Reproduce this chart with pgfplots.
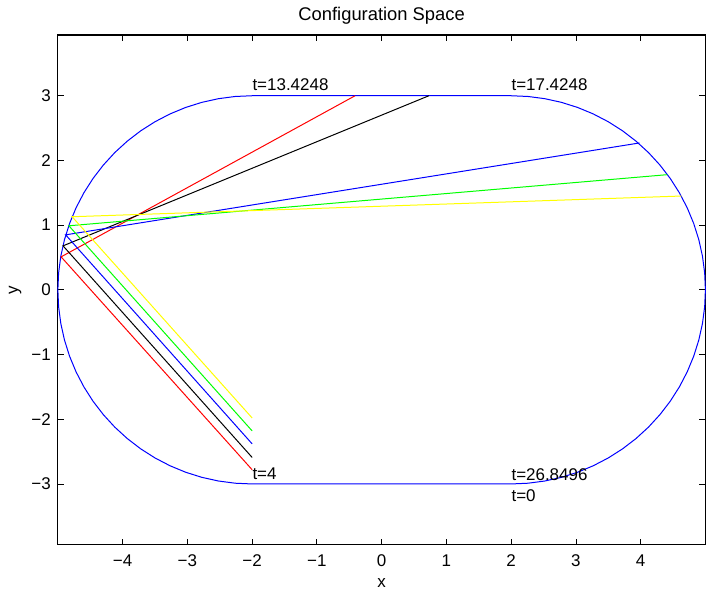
\documentclass[border=0pt]{standalone}
\usepackage{fontspec}
\setmainfont{Liberation Sans}
\usepackage{pgfplots}
\pgfplotsset{compat=1.18}

\definecolor{mblue}{rgb}{0,0,1}
\definecolor{mred}{rgb}{1,0,0}
\definecolor{mgreen}{rgb}{0,1,0}
\definecolor{myellow}{rgb}{1,1,0}

\newcommand{\lblfont}{\fontsize{8.5}{10}\selectfont}

\begin{document}
\begin{tikzpicture}
  \begin{axis}[
      scale only axis,
      width=324.5pt, height=255.5pt,
      xmin=-5, xmax=5,
      ymin=-3.94, ymax=3.94,
      xtick={-4,-3,-2,-1,0,1,2,3,4},
      xticklabels={−4,−3,−2,−1,0,1,2,3,4},
      ytick={-3,-2,-1,0,1,2,3},
      yticklabels={−3,−2,−1,0,1,2,3},
      tick align=inside,
      major tick length=3pt,
      tick style={black, line width=0.4pt},
      axis line style={black, line width=0.6pt},
      every tick label/.append style={font=\lblfont},
      xticklabel style={yshift=-1.5pt},
      title={Configuration Space},
      every axis title shift=7pt,
      title style={font=\fontsize{9.2}{11}\selectfont, inner sep=0pt,
                   at={(axis description cs:0.5,1)}, anchor=base},
      xlabel={x},
      xlabel style={font=\lblfont, inner sep=0pt,
                    at={(axis description cs:0.5,-0.084)}, anchor=base},
      ylabel={y},
      ylabel style={font=\lblfont, inner sep=0pt,
                    at={(axis description cs:-0.066,0.5)}, anchor=center},
      clip=false,
    ]
    % stadium boundary (one closed path, arcs sampled every 5 degrees)
    \addplot[mblue, line width=0.5pt] coordinates {
      (-2,3) (-2.2615,2.9886) (-2.5209,2.9544) (-2.7765,2.8978) (-3.0261,2.8191)
      (-3.2679,2.7189) (-3.5,2.5981) (-3.7207,2.4575) (-3.9284,2.2981)
      (-4.1213,2.1213) (-4.2981,1.9284) (-4.4575,1.7207) (-4.5981,1.5)
      (-4.7189,1.2679) (-4.8191,1.0261) (-4.8978,0.7765) (-4.9544,0.5209)
      (-4.9886,0.2615) (-5,0)
      (-4.9886,-0.2615) (-4.9544,-0.5209) (-4.8978,-0.7765) (-4.8191,-1.0261)
      (-4.7189,-1.2679) (-4.5981,-1.5) (-4.4575,-1.7207) (-4.2981,-1.9284)
      (-4.1213,-2.1213) (-3.9284,-2.2981) (-3.7207,-2.4575) (-3.5,-2.5981)
      (-3.2679,-2.7189) (-3.0261,-2.8191) (-2.7765,-2.8978) (-2.5209,-2.9544)
      (-2.2615,-2.9886) (-2,-3)
      (2,-3) (2.2615,-2.9886) (2.5209,-2.9544) (2.7765,-2.8978) (3.0261,-2.8191)
      (3.2679,-2.7189) (3.5,-2.5981) (3.7207,-2.4575) (3.9284,-2.2981)
      (4.1213,-2.1213) (4.2981,-1.9284) (4.4575,-1.7207) (4.5981,-1.5)
      (4.7189,-1.2679) (4.8191,-1.0261) (4.8978,-0.7765) (4.9544,-0.5209)
      (4.9886,-0.2615) (5,0)
      (4.9886,0.2615) (4.9544,0.5209) (4.8978,0.7765) (4.8191,1.0261)
      (4.7189,1.2679) (4.5981,1.5) (4.4575,1.7207) (4.2981,1.9284)
      (4.1213,2.1213) (3.9284,2.2981) (3.7207,2.4575) (3.5,2.5981)
      (3.2679,2.7189) (3.0261,2.8191) (2.7765,2.8978) (2.5209,2.9544)
      (2.2615,2.9886) (2,3)
      (-2,3)
    };
    % trajectories
    \addplot[mred, line width=0.5pt] coordinates {(-2,-2.78) (-4.95,0.51) (-0.41,3)};
    \addplot[black, line width=0.5pt] coordinates {(-2,-2.59) (-4.92,0.68) (0.73,3)};
    \addplot[mblue, line width=0.5pt] coordinates {(-2,-2.38) (-4.88,0.85) (3.98,2.27)};
    \addplot[mgreen, line width=0.5pt] coordinates {(-2,-2.18) (-4.83,0.99) (4.41,1.78)};
    \addplot[myellow, line width=0.5pt] coordinates {(-2,-1.98) (-4.78,1.13) (4.63,1.45)};

    \node[anchor=west, inner sep=0pt, font=\lblfont] at (axis cs:-2,3.17) {t=13.4248};
    \node[anchor=west, inner sep=0pt, font=\lblfont] at (axis cs:2,3.17) {t=17.4248};
    \node[anchor=west, inner sep=0pt, font=\lblfont] at (axis cs:-2,-2.84) {t=4};
    \node[anchor=west, inner sep=0pt, font=\lblfont] at (axis cs:2,-2.85) {t=26.8496};
    \node[anchor=west, inner sep=0pt, font=\lblfont] at (axis cs:2,-3.18) {t=0};
  \end{axis}
  \path (current axis.south west) ++(-29pt,-23.5pt) coordinate (bba);
  \path (current axis.north east) ++(0pt,17.5pt) coordinate (bbb);
  \path (bba) rectangle (bbb);
\end{tikzpicture}
\end{document}
